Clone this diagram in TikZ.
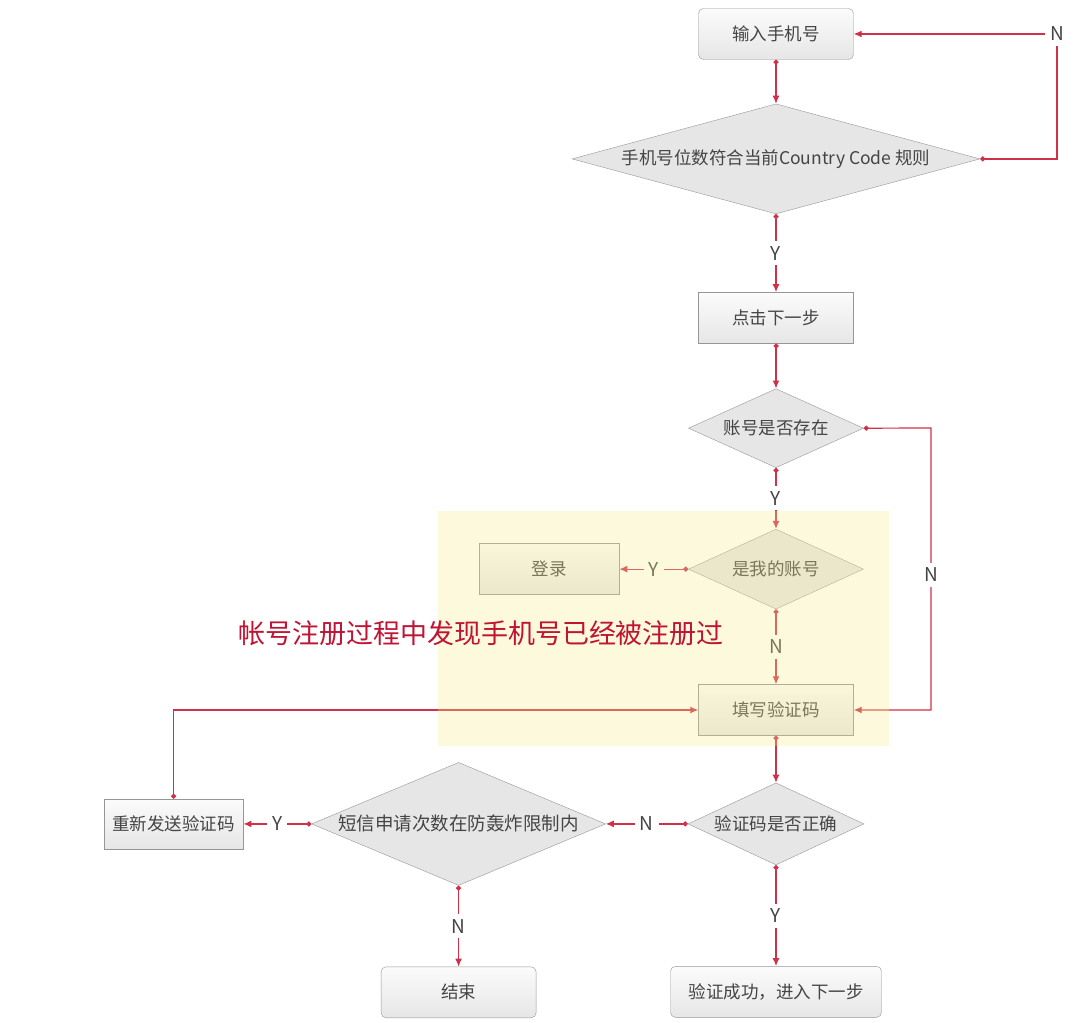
\documentclass[tikz,border=0pt]{standalone}
\usepackage{fontspec}
\setmainfont{Noto Sans CJK SC}
\usetikzlibrary{arrows.meta, positioning, shapes.geometric}
\definecolor{flowred}{RGB}{208,48,72}
\definecolor{boxline}{RGB}{150,150,150}
\definecolor{boxfill}{RGB}{230,230,230}
\definecolor{txt}{RGB}{68,68,68}
\definecolor{hilite}{RGB}{248,236,140}
\definecolor{capred}{RGB}{192,20,52}
\tikzset{%
	box/.style={draw=boxline, rectangle, minimum width=155pt, minimum height=51pt,%
		inner sep=0pt, top color=white!85!boxfill, bottom color=boxfill, text=txt,%
		font=\fontsize{17.5}{17.5}\selectfont},
	rbox/.style={box, rounded corners=5pt},
	dec/.style={draw=boxline, diamond, inner sep=0pt, fill=boxfill, text=txt,%
		font=\fontsize{17.5}{17.5}\selectfont},
	flow/.style={draw=flowred, line width=1.2pt, {Circle[length=5pt]}-{Latex[length=8pt,width=7pt]}},
	lbl/.style={fill=white, inner sep=5pt, text=txt, font=\fontsize{19}{19}\selectfont},
	note/.style={text=capred, font=\fontsize{27}{27}\selectfont}
}
\begin{document}
\begin{tikzpicture}[x=1pt, y=-1pt]
	\useasboundingbox (0,0) rectangle (1080,1023);
	\node[rbox] (input) at (776,34) {输入手机号};
	\node[dec, shape aspect=3.71, minimum width=408pt, minimum height=110pt] (len) [below=44pt of input] {手机号位数符合当前Country Code 规则};
	\node[box] (next) [below=78pt of len] {点击下一步};
	\node[dec, shape aspect=2.2, minimum width=175pt, minimum height=79pt] (exist) [below=45pt of next] {账号是否存在};
	\node[dec, shape aspect=2.2, minimum width=175pt, minimum height=80pt] (mine) [below=61pt of exist] {是我的账号};
	\node[box, minimum width=140pt] (login) [left=69pt of mine] {登录};
	\node[box] (fill) [below=75pt of mine] {填写验证码};
	\node[dec, shape aspect=2.15, minimum width=176pt, minimum height=82pt] (right) [below=47pt of fill] {验证码是否正确};
	\node[dec, shape aspect=2.39, minimum width=294pt, minimum height=123pt, font=\fontsize{18.5}{18.5}\selectfont] (limit) [left=82pt of right] {短信申请次数在防轰炸限制内};
	\node[box, minimum width=139pt, minimum height=50pt] (resend) [left=68pt of limit] {重新发送验证码};
	\node[rbox] (stop) [below=81pt of limit] {结束};
	\node[rbox, minimum width=211pt] (done) [below=101pt of right] {验证成功，进入下一步};
	\coordinate (cN) at (1057,34);
	\coordinate (cA) at (931,428);
	\draw [flow] (input) to (len);
	\draw [flow] (len.east) -| (cN) node[lbl]{N} -- (input.east);
	\draw [flow] (len) to node[lbl]{Y} (next);
	\draw [flow] (next) to (exist);
	\draw [flow] (exist) to node[lbl]{Y} (mine);
	\draw [flow] (exist.east) -- (cA) |- node[lbl, pos=0.26]{N} (fill.east);
	\draw [flow] (mine) to node[lbl]{Y} (login);
	\draw [flow] (mine) to node[lbl]{N} (fill);
	\draw [flow] (fill) to (right);
	\draw [flow] (right) to node[lbl]{N} (limit);
	\draw [flow] (limit) to node[lbl]{Y} (resend);
	\draw [flow] (resend.north) |- (fill.west);
	\draw [flow] (limit) to node[lbl]{N} (stop);
	\draw [flow] (right) to node[lbl]{Y} (done);
	% highlighted part
	\fill[hilite, fill opacity=0.3] (438,511) rectangle (889,746);
	\node[note] (cap) at (481,633) {帐号注册过程中发现手机号已经被注册过};
\end{tikzpicture}
\end{document}
